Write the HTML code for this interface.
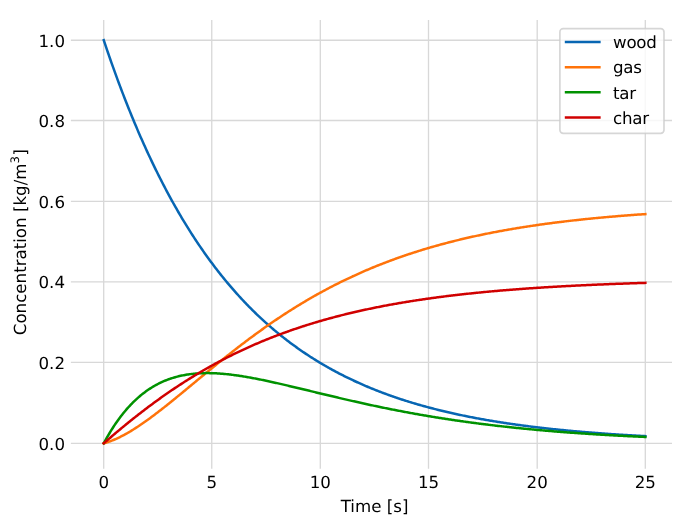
<!DOCTYPE html>
<html><head><meta charset="utf-8"><title>Concentration vs Time</title>
<style>html,body{margin:0;padding:0;background:#fff;}body{width:689px;height:522px;overflow:hidden;}svg{display:block;will-change:transform;text-rendering:geometricPrecision;}</style>
</head><body>
<svg width="689" height="522" viewBox="0 0 689 522">
<rect width="689" height="522" fill="#fff"/>
<path d="M103.70,20.04 V468.80 M211.75,20.04 V468.80 M320.30,20.04 V468.80 M428.50,20.04 V468.80 M537.20,20.04 V468.80 M645.30,20.04 V468.80 M70.90,443.30 H672.00 M70.90,362.45 H672.00 M70.90,281.95 H672.00 M70.90,201.40 H672.00 M70.90,120.50 H672.00 M70.90,40.25 H672.00" stroke="#d8d8d8" stroke-width="1.33" fill="none"/>
<g font-family="DejaVu Sans, Liberation Sans, sans-serif" font-size="16.67" fill="#000">
<text x="103.70" y="488.00" text-anchor="middle">0</text>
<text x="211.75" y="488.00" text-anchor="middle">5</text>
<text x="320.30" y="488.00" text-anchor="middle">10</text>
<text x="428.50" y="488.00" text-anchor="middle">15</text>
<text x="537.20" y="488.00" text-anchor="middle">20</text>
<text x="645.30" y="488.00" text-anchor="middle">25</text>
<text x="65.00" y="449.55" text-anchor="end">0.0</text>
<text x="65.00" y="368.70" text-anchor="end">0.2</text>
<text x="65.00" y="288.20" text-anchor="end">0.4</text>
<text x="65.00" y="207.65" text-anchor="end">0.6</text>
<text x="65.00" y="126.75" text-anchor="end">0.8</text>
<text x="65.00" y="46.50" text-anchor="end">1.0</text>
<text x="374.55" y="511.50" text-anchor="middle">Time [s]</text>
<text transform="translate(25.70,242.15) rotate(-90)" text-anchor="middle">Concentration [kg/m<tspan dy="-6.5" font-size="11.7">3</tspan><tspan dx="0.5" dy="6.5">]</tspan></text>
</g>
<g fill="none" stroke-width="2.5" stroke-linejoin="round" stroke-linecap="square">
<path d="M103.75,40.20 L104.83,43.44 L105.92,46.65 L107.00,49.84 L108.08,53.00 L109.17,56.13 L110.25,59.24 L111.33,62.33 L112.42,65.39 L113.50,68.42 L114.58,71.44 L115.67,74.42 L116.75,77.39 L117.83,80.33 L118.91,83.24 L120.00,86.13 L121.08,89.00 L122.16,91.85 L123.25,94.67 L124.33,97.47 L125.41,100.25 L126.50,103.01 L127.58,105.74 L128.66,108.45 L129.75,111.14 L130.83,113.81 L131.91,116.46 L133.00,119.08 L134.08,121.69 L135.16,124.27 L136.25,126.84 L137.33,129.38 L138.41,131.90 L139.50,134.40 L140.58,136.88 L141.66,139.34 L142.75,141.79 L143.83,144.21 L144.91,146.61 L145.99,148.99 L147.08,151.36 L148.16,153.70 L149.24,156.03 L150.33,158.34 L151.41,160.63 L152.49,162.90 L153.58,165.15 L154.66,167.38 L155.74,169.60 L156.83,171.80 L157.91,173.98 L158.99,176.14 L160.08,178.29 L161.16,180.42 L162.24,182.53 L163.33,184.63 L164.41,186.70 L165.49,188.77 L166.58,190.81 L167.66,192.84 L168.74,194.85 L169.83,196.85 L170.91,198.83 L171.99,200.79 L173.07,202.74 L174.16,204.67 L175.24,206.59 L176.32,208.49 L177.41,210.38 L178.49,212.25 L179.57,214.10 L180.66,215.94 L181.74,217.77 L182.82,219.58 L183.91,221.38 L184.99,223.16 L186.07,224.93 L187.16,226.69 L188.24,228.43 L189.32,230.15 L190.41,231.86 L191.49,233.56 L192.57,235.25 L193.66,236.92 L194.74,238.58 L195.82,240.22 L196.91,241.85 L197.99,243.47 L199.07,245.08 L200.15,246.67 L201.24,248.25 L202.32,249.82 L203.40,251.37 L204.49,252.91 L205.57,254.44 L206.65,255.96 L207.74,257.46 L208.82,258.96 L209.90,260.44 L210.99,261.91 L212.07,263.36 L213.15,264.81 L214.24,266.24 L215.32,267.66 L216.40,269.08 L217.49,270.48 L218.57,271.86 L219.65,273.24 L220.74,274.61 L221.82,275.96 L222.90,277.31 L223.99,278.64 L225.07,279.96 L226.15,281.27 L227.23,282.58 L228.32,283.87 L229.40,285.15 L230.48,286.42 L231.57,287.68 L232.65,288.93 L233.73,290.17 L234.82,291.40 L235.90,292.62 L236.98,293.83 L238.07,295.03 L239.15,296.22 L240.23,297.40 L241.32,298.58 L242.40,299.74 L243.48,300.89 L244.57,302.04 L245.65,303.17 L246.73,304.30 L247.82,305.41 L248.90,306.52 L249.98,307.62 L251.07,308.71 L252.15,309.79 L253.23,310.86 L254.31,311.93 L255.40,312.98 L256.48,314.03 L257.56,315.07 L258.65,316.10 L259.73,317.12 L260.81,318.13 L261.90,319.14 L262.98,320.14 L264.06,321.13 L265.15,322.11 L266.23,323.08 L267.31,324.05 L268.40,325.00 L269.48,325.95 L270.56,326.90 L271.65,327.83 L272.73,328.76 L273.81,329.68 L274.90,330.59 L275.98,331.50 L277.06,332.40 L278.15,333.29 L279.23,334.17 L280.31,335.05 L281.39,335.92 L282.48,336.78 L283.56,337.64 L284.64,338.48 L285.73,339.33 L286.81,340.16 L287.89,340.99 L288.98,341.81 L290.06,342.63 L291.14,343.44 L292.23,344.24 L293.31,345.03 L294.39,345.82 L295.48,346.61 L296.56,347.38 L297.64,348.15 L298.73,348.92 L299.81,349.68 L300.89,350.43 L301.98,351.17 L303.06,351.92 L304.14,352.65 L305.23,353.38 L306.31,354.10 L307.39,354.82 L308.47,355.53 L309.56,356.23 L310.64,356.93 L311.72,357.63 L312.81,358.31 L313.89,359.00 L314.97,359.67 L316.06,360.35 L317.14,361.01 L318.22,361.67 L319.31,362.33 L320.39,362.98 L321.47,363.62 L322.56,364.26 L323.64,364.90 L324.72,365.53 L325.81,366.15 L326.89,366.77 L327.97,367.39 L329.06,368.00 L330.14,368.60 L331.22,369.20 L332.31,369.80 L333.39,370.39 L334.47,370.97 L335.55,371.56 L336.64,372.13 L337.72,372.70 L338.80,373.27 L339.89,373.83 L340.97,374.39 L342.05,374.95 L343.14,375.49 L344.22,376.04 L345.30,376.58 L346.39,377.12 L347.47,377.65 L348.55,378.17 L349.64,378.70 L350.72,379.22 L351.80,379.73 L352.89,380.24 L353.97,380.75 L355.05,381.25 L356.14,381.75 L357.22,382.24 L358.30,382.73 L359.39,383.22 L360.47,383.70 L361.55,384.18 L362.63,384.66 L363.72,385.13 L364.80,385.60 L365.88,386.06 L366.97,386.52 L368.05,386.98 L369.13,387.43 L370.22,387.88 L371.30,388.32 L372.38,388.76 L373.47,389.20 L374.55,389.64 L375.63,390.07 L376.72,390.49 L377.80,390.92 L378.88,391.34 L379.97,391.76 L381.05,392.17 L382.13,392.58 L383.22,392.99 L384.30,393.39 L385.38,393.79 L386.47,394.19 L387.55,394.59 L388.63,394.98 L389.71,395.37 L390.80,395.75 L391.88,396.13 L392.96,396.51 L394.05,396.89 L395.13,397.26 L396.21,397.63 L397.30,398.00 L398.38,398.36 L399.46,398.72 L400.55,399.08 L401.63,399.44 L402.71,399.79 L403.80,400.14 L404.88,400.48 L405.96,400.83 L407.05,401.17 L408.13,401.51 L409.21,401.84 L410.30,402.18 L411.38,402.51 L412.46,402.83 L413.55,403.16 L414.63,403.48 L415.71,403.80 L416.79,404.12 L417.88,404.43 L418.96,404.75 L420.04,405.06 L421.13,405.36 L422.21,405.67 L423.29,405.97 L424.38,406.27 L425.46,406.57 L426.54,406.86 L427.63,407.16 L428.71,407.45 L429.79,407.73 L430.88,408.02 L431.96,408.30 L433.04,408.58 L434.13,408.86 L435.21,409.14 L436.29,409.41 L437.38,409.69 L438.46,409.96 L439.54,410.22 L440.63,410.49 L441.71,410.75 L442.79,411.02 L443.87,411.27 L444.96,411.53 L446.04,411.79 L447.12,412.04 L448.21,412.29 L449.29,412.54 L450.37,412.79 L451.46,413.03 L452.54,413.28 L453.62,413.52 L454.71,413.76 L455.79,413.99 L456.87,414.23 L457.96,414.46 L459.04,414.69 L460.12,414.92 L461.21,415.15 L462.29,415.38 L463.37,415.60 L464.46,415.82 L465.54,416.05 L466.62,416.26 L467.71,416.48 L468.79,416.70 L469.87,416.91 L470.95,417.12 L472.04,417.33 L473.12,417.54 L474.20,417.75 L475.29,417.95 L476.37,418.16 L477.45,418.36 L478.54,418.56 L479.62,418.76 L480.70,418.96 L481.79,419.15 L482.87,419.35 L483.95,419.54 L485.04,419.73 L486.12,419.92 L487.20,420.11 L488.29,420.29 L489.37,420.48 L490.45,420.66 L491.54,420.84 L492.62,421.02 L493.70,421.20 L494.79,421.38 L495.87,421.56 L496.95,421.73 L498.03,421.90 L499.12,422.08 L500.20,422.25 L501.28,422.41 L502.37,422.58 L503.45,422.75 L504.53,422.91 L505.62,423.08 L506.70,423.24 L507.78,423.40 L508.87,423.56 L509.95,423.72 L511.03,423.88 L512.12,424.03 L513.20,424.19 L514.28,424.34 L515.37,424.49 L516.45,424.64 L517.53,424.79 L518.62,424.94 L519.70,425.09 L520.78,425.24 L521.87,425.38 L522.95,425.53 L524.03,425.67 L525.11,425.81 L526.20,425.95 L527.28,426.09 L528.36,426.23 L529.45,426.37 L530.53,426.50 L531.61,426.64 L532.70,426.77 L533.78,426.90 L534.86,427.04 L535.95,427.17 L537.03,427.30 L538.11,427.42 L539.20,427.55 L540.28,427.68 L541.36,427.80 L542.45,427.93 L543.53,428.05 L544.61,428.17 L545.70,428.30 L546.78,428.42 L547.86,428.54 L548.95,428.65 L550.03,428.77 L551.11,428.89 L552.19,429.00 L553.28,429.12 L554.36,429.23 L555.44,429.35 L556.53,429.46 L557.61,429.57 L558.69,429.68 L559.78,429.79 L560.86,429.90 L561.94,430.01 L563.03,430.11 L564.11,430.22 L565.19,430.32 L566.28,430.43 L567.36,430.53 L568.44,430.63 L569.53,430.74 L570.61,430.84 L571.69,430.94 L572.78,431.04 L573.86,431.13 L574.94,431.23 L576.03,431.33 L577.11,431.42 L578.19,431.52 L579.27,431.61 L580.36,431.71 L581.44,431.80 L582.52,431.89 L583.61,431.99 L584.69,432.08 L585.77,432.17 L586.86,432.26 L587.94,432.35 L589.02,432.43 L590.11,432.52 L591.19,432.61 L592.27,432.69 L593.36,432.78 L594.44,432.86 L595.52,432.95 L596.61,433.03 L597.69,433.11 L598.77,433.19 L599.86,433.28 L600.94,433.36 L602.02,433.44 L603.11,433.51 L604.19,433.59 L605.27,433.67 L606.35,433.75 L607.44,433.83 L608.52,433.90 L609.60,433.98 L610.69,434.05 L611.77,434.13 L612.85,434.20 L613.94,434.27 L615.02,434.35 L616.10,434.42 L617.19,434.49 L618.27,434.56 L619.35,434.63 L620.44,434.70 L621.52,434.77 L622.60,434.84 L623.69,434.91 L624.77,434.97 L625.85,435.04 L626.94,435.11 L628.02,435.17 L629.10,435.24 L630.19,435.30 L631.27,435.37 L632.35,435.43 L633.43,435.49 L634.52,435.56 L635.60,435.62 L636.68,435.68 L637.77,435.74 L638.85,435.80 L639.93,435.86 L641.02,435.92 L642.10,435.98 L643.18,436.04 L644.27,436.10 L645.35,436.16" stroke="#0766b3"/>
<path d="M103.75,443.30 L104.83,443.00 L105.92,442.68 L107.00,442.35 L108.08,441.99 L109.17,441.62 L110.25,441.23 L111.33,440.83 L112.42,440.41 L113.50,439.97 L114.58,439.51 L115.67,439.04 L116.75,438.56 L117.83,438.06 L118.91,437.55 L120.00,437.02 L121.08,436.48 L122.16,435.93 L123.25,435.36 L124.33,434.78 L125.41,434.19 L126.50,433.59 L127.58,432.97 L128.66,432.35 L129.75,431.71 L130.83,431.06 L131.91,430.40 L133.00,429.74 L134.08,429.06 L135.16,428.37 L136.25,427.67 L137.33,426.97 L138.41,426.26 L139.50,425.53 L140.58,424.80 L141.66,424.06 L142.75,423.32 L143.83,422.56 L144.91,421.80 L145.99,421.04 L147.08,420.26 L148.16,419.48 L149.24,418.69 L150.33,417.90 L151.41,417.10 L152.49,416.30 L153.58,415.49 L154.66,414.67 L155.74,413.85 L156.83,413.02 L157.91,412.19 L158.99,411.36 L160.08,410.52 L161.16,409.68 L162.24,408.83 L163.33,407.98 L164.41,407.13 L165.49,406.27 L166.58,405.41 L167.66,404.54 L168.74,403.68 L169.83,402.81 L170.91,401.94 L171.99,401.06 L173.07,400.18 L174.16,399.30 L175.24,398.42 L176.32,397.54 L177.41,396.65 L178.49,395.77 L179.57,394.88 L180.66,393.99 L181.74,393.10 L182.82,392.21 L183.91,391.31 L184.99,390.42 L186.07,389.52 L187.16,388.63 L188.24,387.73 L189.32,386.83 L190.41,385.94 L191.49,385.04 L192.57,384.14 L193.66,383.24 L194.74,382.35 L195.82,381.45 L196.91,380.55 L197.99,379.65 L199.07,378.76 L200.15,377.86 L201.24,376.97 L202.32,376.07 L203.40,375.18 L204.49,374.28 L205.57,373.39 L206.65,372.50 L207.74,371.61 L208.82,370.72 L209.90,369.83 L210.99,368.95 L212.07,368.06 L213.15,367.18 L214.24,366.29 L215.32,365.41 L216.40,364.53 L217.49,363.65 L218.57,362.78 L219.65,361.90 L220.74,361.03 L221.82,360.16 L222.90,359.29 L223.99,358.42 L225.07,357.56 L226.15,356.69 L227.23,355.83 L228.32,354.98 L229.40,354.12 L230.48,353.26 L231.57,352.41 L232.65,351.56 L233.73,350.72 L234.82,349.87 L235.90,349.03 L236.98,348.19 L238.07,347.35 L239.15,346.52 L240.23,345.68 L241.32,344.85 L242.40,344.03 L243.48,343.20 L244.57,342.38 L245.65,341.56 L246.73,340.75 L247.82,339.93 L248.90,339.12 L249.98,338.32 L251.07,337.51 L252.15,336.71 L253.23,335.91 L254.31,335.12 L255.40,334.32 L256.48,333.53 L257.56,332.75 L258.65,331.96 L259.73,331.18 L260.81,330.40 L261.90,329.63 L262.98,328.86 L264.06,328.09 L265.15,327.33 L266.23,326.56 L267.31,325.80 L268.40,325.05 L269.48,324.30 L270.56,323.55 L271.65,322.80 L272.73,322.06 L273.81,321.32 L274.90,320.58 L275.98,319.85 L277.06,319.12 L278.15,318.39 L279.23,317.67 L280.31,316.95 L281.39,316.24 L282.48,315.52 L283.56,314.81 L284.64,314.11 L285.73,313.40 L286.81,312.70 L287.89,312.01 L288.98,311.31 L290.06,310.62 L291.14,309.94 L292.23,309.25 L293.31,308.57 L294.39,307.90 L295.48,307.22 L296.56,306.55 L297.64,305.89 L298.73,305.23 L299.81,304.57 L300.89,303.91 L301.98,303.26 L303.06,302.61 L304.14,301.96 L305.23,301.32 L306.31,300.68 L307.39,300.04 L308.47,299.41 L309.56,298.78 L310.64,298.15 L311.72,297.53 L312.81,296.91 L313.89,296.29 L314.97,295.68 L316.06,295.07 L317.14,294.46 L318.22,293.86 L319.31,293.26 L320.39,292.66 L321.47,292.07 L322.56,291.48 L323.64,290.89 L324.72,290.31 L325.81,289.73 L326.89,289.15 L327.97,288.58 L329.06,288.01 L330.14,287.44 L331.22,286.88 L332.31,286.32 L333.39,285.76 L334.47,285.21 L335.55,284.65 L336.64,284.11 L337.72,283.56 L338.80,283.02 L339.89,282.48 L340.97,281.94 L342.05,281.41 L343.14,280.88 L344.22,280.36 L345.30,279.83 L346.39,279.31 L347.47,278.80 L348.55,278.28 L349.64,277.77 L350.72,277.26 L351.80,276.76 L352.89,276.26 L353.97,275.76 L355.05,275.26 L356.14,274.77 L357.22,274.28 L358.30,273.79 L359.39,273.31 L360.47,272.83 L361.55,272.35 L362.63,271.88 L363.72,271.40 L364.80,270.93 L365.88,270.47 L366.97,270.01 L368.05,269.54 L369.13,269.09 L370.22,268.63 L371.30,268.18 L372.38,267.73 L373.47,267.28 L374.55,266.84 L375.63,266.40 L376.72,265.96 L377.80,265.53 L378.88,265.09 L379.97,264.66 L381.05,264.24 L382.13,263.81 L383.22,263.39 L384.30,262.97 L385.38,262.56 L386.47,262.14 L387.55,261.73 L388.63,261.32 L389.71,260.92 L390.80,260.51 L391.88,260.11 L392.96,259.72 L394.05,259.32 L395.13,258.93 L396.21,258.54 L397.30,258.15 L398.38,257.76 L399.46,257.38 L400.55,257.00 L401.63,256.62 L402.71,256.25 L403.80,255.88 L404.88,255.51 L405.96,255.14 L407.05,254.77 L408.13,254.41 L409.21,254.05 L410.30,253.69 L411.38,253.34 L412.46,252.98 L413.55,252.63 L414.63,252.28 L415.71,251.94 L416.79,251.59 L417.88,251.25 L418.96,250.91 L420.04,250.57 L421.13,250.24 L422.21,249.90 L423.29,249.57 L424.38,249.25 L425.46,248.92 L426.54,248.60 L427.63,248.27 L428.71,247.96 L429.79,247.64 L430.88,247.32 L431.96,247.01 L433.04,246.70 L434.13,246.39 L435.21,246.08 L436.29,245.78 L437.38,245.48 L438.46,245.18 L439.54,244.88 L440.63,244.58 L441.71,244.29 L442.79,243.99 L443.87,243.70 L444.96,243.42 L446.04,243.13 L447.12,242.84 L448.21,242.56 L449.29,242.28 L450.37,242.00 L451.46,241.73 L452.54,241.45 L453.62,241.18 L454.71,240.91 L455.79,240.64 L456.87,240.37 L457.96,240.11 L459.04,239.84 L460.12,239.58 L461.21,239.32 L462.29,239.07 L463.37,238.81 L464.46,238.56 L465.54,238.30 L466.62,238.05 L467.71,237.80 L468.79,237.56 L469.87,237.31 L470.95,237.07 L472.04,236.83 L473.12,236.58 L474.20,236.35 L475.29,236.11 L476.37,235.87 L477.45,235.64 L478.54,235.41 L479.62,235.18 L480.70,234.95 L481.79,234.72 L482.87,234.50 L483.95,234.27 L485.04,234.05 L486.12,233.83 L487.20,233.61 L488.29,233.39 L489.37,233.18 L490.45,232.96 L491.54,232.75 L492.62,232.54 L493.70,232.33 L494.79,232.12 L495.87,231.92 L496.95,231.71 L498.03,231.51 L499.12,231.30 L500.20,231.10 L501.28,230.90 L502.37,230.71 L503.45,230.51 L504.53,230.31 L505.62,230.12 L506.70,229.93 L507.78,229.74 L508.87,229.55 L509.95,229.36 L511.03,229.17 L512.12,228.99 L513.20,228.80 L514.28,228.62 L515.37,228.44 L516.45,228.26 L517.53,228.08 L518.62,227.90 L519.70,227.73 L520.78,227.55 L521.87,227.38 L522.95,227.20 L524.03,227.03 L525.11,226.86 L526.20,226.69 L527.28,226.53 L528.36,226.36 L529.45,226.20 L530.53,226.03 L531.61,225.87 L532.70,225.71 L533.78,225.55 L534.86,225.39 L535.95,225.23 L537.03,225.07 L538.11,224.92 L539.20,224.76 L540.28,224.61 L541.36,224.46 L542.45,224.31 L543.53,224.16 L544.61,224.01 L545.70,223.86 L546.78,223.72 L547.86,223.57 L548.95,223.43 L550.03,223.28 L551.11,223.14 L552.19,223.00 L553.28,222.86 L554.36,222.72 L555.44,222.58 L556.53,222.44 L557.61,222.31 L558.69,222.17 L559.78,222.04 L560.86,221.91 L561.94,221.77 L563.03,221.64 L564.11,221.51 L565.19,221.38 L566.28,221.25 L567.36,221.13 L568.44,221.00 L569.53,220.88 L570.61,220.75 L571.69,220.63 L572.78,220.51 L573.86,220.38 L574.94,220.26 L576.03,220.14 L577.11,220.02 L578.19,219.91 L579.27,219.79 L580.36,219.67 L581.44,219.56 L582.52,219.44 L583.61,219.33 L584.69,219.22 L585.77,219.10 L586.86,218.99 L587.94,218.88 L589.02,218.77 L590.11,218.66 L591.19,218.56 L592.27,218.45 L593.36,218.34 L594.44,218.24 L595.52,218.13 L596.61,218.03 L597.69,217.93 L598.77,217.82 L599.86,217.72 L600.94,217.62 L602.02,217.52 L603.11,217.42 L604.19,217.32 L605.27,217.23 L606.35,217.13 L607.44,217.03 L608.52,216.94 L609.60,216.84 L610.69,216.75 L611.77,216.66 L612.85,216.56 L613.94,216.47 L615.02,216.38 L616.10,216.29 L617.19,216.20 L618.27,216.11 L619.35,216.02 L620.44,215.93 L621.52,215.85 L622.60,215.76 L623.69,215.67 L624.77,215.59 L625.85,215.50 L626.94,215.42 L628.02,215.34 L629.10,215.25 L630.19,215.17 L631.27,215.09 L632.35,215.01 L633.43,214.93 L634.52,214.85 L635.60,214.77 L636.68,214.69 L637.77,214.62 L638.85,214.54 L639.93,214.46 L641.02,214.39 L642.10,214.31 L643.18,214.24 L644.27,214.16 L645.35,214.09" stroke="#ff730a"/>
<path d="M103.75,443.30 L104.83,441.30 L105.92,439.35 L107.00,437.44 L108.08,435.57 L109.17,433.74 L110.25,431.94 L111.33,430.19 L112.42,428.48 L113.50,426.80 L114.58,425.16 L115.67,423.56 L116.75,422.00 L117.83,420.47 L118.91,418.97 L120.00,417.51 L121.08,416.08 L122.16,414.69 L123.25,413.32 L124.33,411.99 L125.41,410.69 L126.50,409.43 L127.58,408.19 L128.66,406.98 L129.75,405.80 L130.83,404.65 L131.91,403.53 L133.00,402.44 L134.08,401.37 L135.16,400.33 L136.25,399.32 L137.33,398.33 L138.41,397.37 L139.50,396.44 L140.58,395.53 L141.66,394.64 L142.75,393.78 L143.83,392.94 L144.91,392.13 L145.99,391.33 L147.08,390.56 L148.16,389.81 L149.24,389.08 L150.33,388.38 L151.41,387.69 L152.49,387.03 L153.58,386.38 L154.66,385.76 L155.74,385.15 L156.83,384.56 L157.91,384.00 L158.99,383.45 L160.08,382.91 L161.16,382.40 L162.24,381.90 L163.33,381.42 L164.41,380.96 L165.49,380.51 L166.58,380.08 L167.66,379.67 L168.74,379.27 L169.83,378.88 L170.91,378.51 L171.99,378.16 L173.07,377.82 L174.16,377.49 L175.24,377.18 L176.32,376.88 L177.41,376.60 L178.49,376.32 L179.57,376.06 L180.66,375.82 L181.74,375.58 L182.82,375.36 L183.91,375.15 L184.99,374.95 L186.07,374.77 L187.16,374.59 L188.24,374.42 L189.32,374.27 L190.41,374.13 L191.49,373.99 L192.57,373.87 L193.66,373.76 L194.74,373.66 L195.82,373.56 L196.91,373.48 L197.99,373.40 L199.07,373.34 L200.15,373.28 L201.24,373.23 L202.32,373.19 L203.40,373.16 L204.49,373.14 L205.57,373.12 L206.65,373.11 L207.74,373.11 L208.82,373.12 L209.90,373.13 L210.99,373.15 L212.07,373.18 L213.15,373.22 L214.24,373.26 L215.32,373.31 L216.40,373.36 L217.49,373.43 L218.57,373.49 L219.65,373.57 L220.74,373.65 L221.82,373.73 L222.90,373.82 L223.99,373.92 L225.07,374.02 L226.15,374.13 L227.23,374.24 L228.32,374.35 L229.40,374.48 L230.48,374.60 L231.57,374.73 L232.65,374.87 L233.73,375.01 L234.82,375.15 L235.90,375.30 L236.98,375.45 L238.07,375.61 L239.15,375.77 L240.23,375.93 L241.32,376.10 L242.40,376.27 L243.48,376.45 L244.57,376.62 L245.65,376.81 L246.73,376.99 L247.82,377.18 L248.90,377.37 L249.98,377.56 L251.07,377.76 L252.15,377.96 L253.23,378.16 L254.31,378.37 L255.40,378.57 L256.48,378.78 L257.56,379.00 L258.65,379.21 L259.73,379.43 L260.81,379.65 L261.90,379.87 L262.98,380.09 L264.06,380.32 L265.15,380.54 L266.23,380.77 L267.31,381.00 L268.40,381.24 L269.48,381.47 L270.56,381.71 L271.65,381.94 L272.73,382.18 L273.81,382.42 L274.90,382.67 L275.98,382.91 L277.06,383.15 L278.15,383.40 L279.23,383.64 L280.31,383.89 L281.39,384.14 L282.48,384.39 L283.56,384.64 L284.64,384.89 L285.73,385.15 L286.81,385.40 L287.89,385.65 L288.98,385.91 L290.06,386.17 L291.14,386.42 L292.23,386.68 L293.31,386.94 L294.39,387.19 L295.48,387.45 L296.56,387.71 L297.64,387.97 L298.73,388.23 L299.81,388.49 L300.89,388.75 L301.98,389.01 L303.06,389.27 L304.14,389.54 L305.23,389.80 L306.31,390.06 L307.39,390.32 L308.47,390.58 L309.56,390.84 L310.64,391.11 L311.72,391.37 L312.81,391.63 L313.89,391.89 L314.97,392.15 L316.06,392.42 L317.14,392.68 L318.22,392.94 L319.31,393.20 L320.39,393.46 L321.47,393.72 L322.56,393.98 L323.64,394.24 L324.72,394.50 L325.81,394.76 L326.89,395.02 L327.97,395.28 L329.06,395.54 L330.14,395.80 L331.22,396.06 L332.31,396.31 L333.39,396.57 L334.47,396.83 L335.55,397.08 L336.64,397.34 L337.72,397.59 L338.80,397.85 L339.89,398.10 L340.97,398.35 L342.05,398.61 L343.14,398.86 L344.22,399.11 L345.30,399.36 L346.39,399.61 L347.47,399.86 L348.55,400.11 L349.64,400.36 L350.72,400.61 L351.80,400.85 L352.89,401.10 L353.97,401.34 L355.05,401.59 L356.14,401.83 L357.22,402.08 L358.30,402.32 L359.39,402.56 L360.47,402.80 L361.55,403.04 L362.63,403.28 L363.72,403.52 L364.80,403.76 L365.88,403.99 L366.97,404.23 L368.05,404.46 L369.13,404.70 L370.22,404.93 L371.30,405.16 L372.38,405.40 L373.47,405.63 L374.55,405.86 L375.63,406.08 L376.72,406.31 L377.80,406.54 L378.88,406.77 L379.97,406.99 L381.05,407.22 L382.13,407.44 L383.22,407.66 L384.30,407.88 L385.38,408.11 L386.47,408.33 L387.55,408.54 L388.63,408.76 L389.71,408.98 L390.80,409.20 L391.88,409.41 L392.96,409.62 L394.05,409.84 L395.13,410.05 L396.21,410.26 L397.30,410.47 L398.38,410.68 L399.46,410.89 L400.55,411.10 L401.63,411.30 L402.71,411.51 L403.80,411.71 L404.88,411.92 L405.96,412.12 L407.05,412.32 L408.13,412.52 L409.21,412.72 L410.30,412.92 L411.38,413.12 L412.46,413.32 L413.55,413.51 L414.63,413.71 L415.71,413.90 L416.79,414.09 L417.88,414.29 L418.96,414.48 L420.04,414.67 L421.13,414.86 L422.21,415.04 L423.29,415.23 L424.38,415.42 L425.46,415.60 L426.54,415.79 L427.63,415.97 L428.71,416.15 L429.79,416.33 L430.88,416.51 L431.96,416.69 L433.04,416.87 L434.13,417.05 L435.21,417.22 L436.29,417.40 L437.38,417.57 L438.46,417.75 L439.54,417.92 L440.63,418.09 L441.71,418.26 L442.79,418.43 L443.87,418.60 L444.96,418.77 L446.04,418.93 L447.12,419.10 L448.21,419.27 L449.29,419.43 L450.37,419.59 L451.46,419.75 L452.54,419.92 L453.62,420.08 L454.71,420.24 L455.79,420.39 L456.87,420.55 L457.96,420.71 L459.04,420.86 L460.12,421.02 L461.21,421.17 L462.29,421.33 L463.37,421.48 L464.46,421.63 L465.54,421.78 L466.62,421.93 L467.71,422.08 L468.79,422.22 L469.87,422.37 L470.95,422.52 L472.04,422.66 L473.12,422.81 L474.20,422.95 L475.29,423.09 L476.37,423.23 L477.45,423.37 L478.54,423.51 L479.62,423.65 L480.70,423.79 L481.79,423.93 L482.87,424.06 L483.95,424.20 L485.04,424.34 L486.12,424.47 L487.20,424.60 L488.29,424.73 L489.37,424.87 L490.45,425.00 L491.54,425.13 L492.62,425.25 L493.70,425.38 L494.79,425.51 L495.87,425.64 L496.95,425.76 L498.03,425.89 L499.12,426.01 L500.20,426.13 L501.28,426.26 L502.37,426.38 L503.45,426.50 L504.53,426.62 L505.62,426.74 L506.70,426.86 L507.78,426.98 L508.87,427.09 L509.95,427.21 L511.03,427.33 L512.12,427.44 L513.20,427.55 L514.28,427.67 L515.37,427.78 L516.45,427.89 L517.53,428.00 L518.62,428.11 L519.70,428.22 L520.78,428.33 L521.87,428.44 L522.95,428.55 L524.03,428.66 L525.11,428.76 L526.20,428.87 L527.28,428.97 L528.36,429.08 L529.45,429.18 L530.53,429.28 L531.61,429.38 L532.70,429.49 L533.78,429.59 L534.86,429.69 L535.95,429.79 L537.03,429.88 L538.11,429.98 L539.20,430.08 L540.28,430.18 L541.36,430.27 L542.45,430.37 L543.53,430.46 L544.61,430.56 L545.70,430.65 L546.78,430.74 L547.86,430.84 L548.95,430.93 L550.03,431.02 L551.11,431.11 L552.19,431.20 L553.28,431.29 L554.36,431.38 L555.44,431.46 L556.53,431.55 L557.61,431.64 L558.69,431.72 L559.78,431.81 L560.86,431.89 L561.94,431.98 L563.03,432.06 L564.11,432.15 L565.19,432.23 L566.28,432.31 L567.36,432.39 L568.44,432.47 L569.53,432.55 L570.61,432.63 L571.69,432.71 L572.78,432.79 L573.86,432.87 L574.94,432.95 L576.03,433.02 L577.11,433.10 L578.19,433.18 L579.27,433.25 L580.36,433.33 L581.44,433.40 L582.52,433.47 L583.61,433.55 L584.69,433.62 L585.77,433.69 L586.86,433.77 L587.94,433.84 L589.02,433.91 L590.11,433.98 L591.19,434.05 L592.27,434.12 L593.36,434.19 L594.44,434.25 L595.52,434.32 L596.61,434.39 L597.69,434.46 L598.77,434.52 L599.86,434.59 L600.94,434.65 L602.02,434.72 L603.11,434.78 L604.19,434.85 L605.27,434.91 L606.35,434.97 L607.44,435.04 L608.52,435.10 L609.60,435.16 L610.69,435.22 L611.77,435.28 L612.85,435.34 L613.94,435.40 L615.02,435.46 L616.10,435.52 L617.19,435.58 L618.27,435.64 L619.35,435.70 L620.44,435.76 L621.52,435.81 L622.60,435.87 L623.69,435.93 L624.77,435.98 L625.85,436.04 L626.94,436.09 L628.02,436.15 L629.10,436.20 L630.19,436.25 L631.27,436.31 L632.35,436.36 L633.43,436.41 L634.52,436.47 L635.60,436.52 L636.68,436.57 L637.77,436.62 L638.85,436.67 L639.93,436.72 L641.02,436.77 L642.10,436.82 L643.18,436.87 L644.27,436.92 L645.35,436.97" stroke="#009200"/>
<path d="M103.75,443.30 L104.83,442.36 L105.92,441.42 L107.00,440.48 L108.08,439.54 L109.17,438.61 L110.25,437.68 L111.33,436.75 L112.42,435.83 L113.50,434.90 L114.58,433.99 L115.67,433.07 L116.75,432.16 L117.83,431.25 L118.91,430.34 L120.00,429.44 L121.08,428.54 L122.16,427.64 L123.25,426.74 L124.33,425.85 L125.41,424.96 L126.50,424.08 L127.58,423.20 L128.66,422.32 L129.75,421.45 L130.83,420.57 L131.91,419.71 L133.00,418.84 L134.08,417.98 L135.16,417.12 L136.25,416.27 L137.33,415.42 L138.41,414.57 L139.50,413.73 L140.58,412.89 L141.66,412.05 L142.75,411.22 L143.83,410.39 L144.91,409.56 L145.99,408.74 L147.08,407.92 L148.16,407.10 L149.24,406.29 L150.33,405.48 L151.41,404.68 L152.49,403.88 L153.58,403.08 L154.66,402.29 L155.74,401.50 L156.83,400.71 L157.91,399.93 L158.99,399.15 L160.08,398.37 L161.16,397.60 L162.24,396.83 L163.33,396.07 L164.41,395.31 L165.49,394.55 L166.58,393.80 L167.66,393.05 L168.74,392.31 L169.83,391.56 L170.91,390.83 L171.99,390.09 L173.07,389.36 L174.16,388.63 L175.24,387.91 L176.32,387.19 L177.41,386.47 L178.49,385.76 L179.57,385.05 L180.66,384.35 L181.74,383.65 L182.82,382.95 L183.91,382.26 L184.99,381.57 L186.07,380.88 L187.16,380.20 L188.24,379.52 L189.32,378.84 L190.41,378.17 L191.49,377.50 L192.57,376.84 L193.66,376.18 L194.74,375.52 L195.82,374.87 L196.91,374.22 L197.99,373.57 L199.07,372.93 L200.15,372.29 L201.24,371.65 L202.32,371.02 L203.40,370.39 L204.49,369.77 L205.57,369.15 L206.65,368.53 L207.74,367.92 L208.82,367.31 L209.90,366.70 L210.99,366.09 L212.07,365.49 L213.15,364.90 L214.24,364.30 L215.32,363.71 L216.40,363.13 L217.49,362.55 L218.57,361.97 L219.65,361.39 L220.74,360.82 L221.82,360.25 L222.90,359.68 L223.99,359.12 L225.07,358.56 L226.15,358.01 L227.23,357.45 L228.32,356.90 L229.40,356.36 L230.48,355.82 L231.57,355.28 L232.65,354.74 L233.73,354.21 L234.82,353.68 L235.90,353.15 L236.98,352.63 L238.07,352.11 L239.15,351.59 L240.23,351.08 L241.32,350.57 L242.40,350.06 L243.48,349.56 L244.57,349.06 L245.65,348.56 L246.73,348.07 L247.82,347.57 L248.90,347.09 L249.98,346.60 L251.07,346.12 L252.15,345.64 L253.23,345.16 L254.31,344.69 L255.40,344.22 L256.48,343.75 L257.56,343.29 L258.65,342.83 L259.73,342.37 L260.81,341.92 L261.90,341.46 L262.98,341.01 L264.06,340.57 L265.15,340.12 L266.23,339.68 L267.31,339.24 L268.40,338.81 L269.48,338.38 L270.56,337.95 L271.65,337.52 L272.73,337.10 L273.81,336.68 L274.90,336.26 L275.98,335.84 L277.06,335.43 L278.15,335.02 L279.23,334.61 L280.31,334.21 L281.39,333.81 L282.48,333.41 L283.56,333.01 L284.64,332.61 L285.73,332.22 L286.81,331.83 L287.89,331.45 L288.98,331.06 L290.06,330.68 L291.14,330.30 L292.23,329.93 L293.31,329.55 L294.39,329.18 L295.48,328.82 L296.56,328.45 L297.64,328.09 L298.73,327.72 L299.81,327.37 L300.89,327.01 L301.98,326.66 L303.06,326.30 L304.14,325.95 L305.23,325.61 L306.31,325.26 L307.39,324.92 L308.47,324.58 L309.56,324.24 L310.64,323.91 L311.72,323.58 L312.81,323.25 L313.89,322.92 L314.97,322.59 L316.06,322.27 L317.14,321.95 L318.22,321.63 L319.31,321.31 L320.39,320.99 L321.47,320.68 L322.56,320.37 L323.64,320.06 L324.72,319.76 L325.81,319.45 L326.89,319.15 L327.97,318.85 L329.06,318.55 L330.14,318.26 L331.22,317.96 L332.31,317.67 L333.39,317.38 L334.47,317.09 L335.55,316.81 L336.64,316.52 L337.72,316.24 L338.80,315.96 L339.89,315.69 L340.97,315.41 L342.05,315.14 L343.14,314.86 L344.22,314.59 L345.30,314.33 L346.39,314.06 L347.47,313.80 L348.55,313.53 L349.64,313.27 L350.72,313.01 L351.80,312.76 L352.89,312.50 L353.97,312.25 L355.05,312.00 L356.14,311.75 L357.22,311.50 L358.30,311.25 L359.39,311.01 L360.47,310.77 L361.55,310.53 L362.63,310.29 L363.72,310.05 L364.80,309.81 L365.88,309.58 L366.97,309.35 L368.05,309.12 L369.13,308.89 L370.22,308.66 L371.30,308.43 L372.38,308.21 L373.47,307.99 L374.55,307.77 L375.63,307.55 L376.72,307.33 L377.80,307.11 L378.88,306.90 L379.97,306.69 L381.05,306.47 L382.13,306.26 L383.22,306.06 L384.30,305.85 L385.38,305.64 L386.47,305.44 L387.55,305.24 L388.63,305.04 L389.71,304.84 L390.80,304.64 L391.88,304.44 L392.96,304.25 L394.05,304.05 L395.13,303.86 L396.21,303.67 L397.30,303.48 L398.38,303.29 L399.46,303.10 L400.55,302.92 L401.63,302.74 L402.71,302.55 L403.80,302.37 L404.88,302.19 L405.96,302.01 L407.05,301.83 L408.13,301.66 L409.21,301.48 L410.30,301.31 L411.38,301.14 L412.46,300.97 L413.55,300.80 L414.63,300.63 L415.71,300.46 L416.79,300.30 L417.88,300.13 L418.96,299.97 L420.04,299.80 L421.13,299.64 L422.21,299.48 L423.29,299.32 L424.38,299.17 L425.46,299.01 L426.54,298.86 L427.63,298.70 L428.71,298.55 L429.79,298.40 L430.88,298.25 L431.96,298.10 L433.04,297.95 L434.13,297.80 L435.21,297.65 L436.29,297.51 L437.38,297.36 L438.46,297.22 L439.54,297.08 L440.63,296.94 L441.71,296.80 L442.79,296.66 L443.87,296.52 L444.96,296.38 L446.04,296.25 L447.12,296.11 L448.21,295.98 L449.29,295.85 L450.37,295.72 L451.46,295.59 L452.54,295.46 L453.62,295.33 L454.71,295.20 L455.79,295.07 L456.87,294.95 L457.96,294.82 L459.04,294.70 L460.12,294.57 L461.21,294.45 L462.29,294.33 L463.37,294.21 L464.46,294.09 L465.54,293.97 L466.62,293.85 L467.71,293.74 L468.79,293.62 L469.87,293.51 L470.95,293.39 L472.04,293.28 L473.12,293.17 L474.20,293.06 L475.29,292.94 L476.37,292.83 L477.45,292.73 L478.54,292.62 L479.62,292.51 L480.70,292.40 L481.79,292.30 L482.87,292.19 L483.95,292.09 L485.04,291.98 L486.12,291.88 L487.20,291.78 L488.29,291.68 L489.37,291.58 L490.45,291.48 L491.54,291.38 L492.62,291.28 L493.70,291.19 L494.79,291.09 L495.87,290.99 L496.95,290.90 L498.03,290.80 L499.12,290.71 L500.20,290.62 L501.28,290.52 L502.37,290.43 L503.45,290.34 L504.53,290.25 L505.62,290.16 L506.70,290.07 L507.78,289.99 L508.87,289.90 L509.95,289.81 L511.03,289.73 L512.12,289.64 L513.20,289.55 L514.28,289.47 L515.37,289.39 L516.45,289.30 L517.53,289.22 L518.62,289.14 L519.70,289.06 L520.78,288.98 L521.87,288.90 L522.95,288.82 L524.03,288.74 L525.11,288.66 L526.20,288.59 L527.28,288.51 L528.36,288.43 L529.45,288.36 L530.53,288.28 L531.61,288.21 L532.70,288.13 L533.78,288.06 L534.86,287.99 L535.95,287.92 L537.03,287.85 L538.11,287.77 L539.20,287.70 L540.28,287.63 L541.36,287.56 L542.45,287.50 L543.53,287.43 L544.61,287.36 L545.70,287.29 L546.78,287.23 L547.86,287.16 L548.95,287.09 L550.03,287.03 L551.11,286.96 L552.19,286.90 L553.28,286.84 L554.36,286.77 L555.44,286.71 L556.53,286.65 L557.61,286.59 L558.69,286.52 L559.78,286.46 L560.86,286.40 L561.94,286.34 L563.03,286.28 L564.11,286.22 L565.19,286.17 L566.28,286.11 L567.36,286.05 L568.44,285.99 L569.53,285.94 L570.61,285.88 L571.69,285.82 L572.78,285.77 L573.86,285.71 L574.94,285.66 L576.03,285.60 L577.11,285.55 L578.19,285.50 L579.27,285.44 L580.36,285.39 L581.44,285.34 L582.52,285.29 L583.61,285.24 L584.69,285.19 L585.77,285.14 L586.86,285.09 L587.94,285.04 L589.02,284.99 L590.11,284.94 L591.19,284.89 L592.27,284.84 L593.36,284.79 L594.44,284.75 L595.52,284.70 L596.61,284.65 L597.69,284.61 L598.77,284.56 L599.86,284.51 L600.94,284.47 L602.02,284.42 L603.11,284.38 L604.19,284.33 L605.27,284.29 L606.35,284.25 L607.44,284.20 L608.52,284.16 L609.60,284.12 L610.69,284.08 L611.77,284.03 L612.85,283.99 L613.94,283.95 L615.02,283.91 L616.10,283.87 L617.19,283.83 L618.27,283.79 L619.35,283.75 L620.44,283.71 L621.52,283.67 L622.60,283.63 L623.69,283.60 L624.77,283.56 L625.85,283.52 L626.94,283.48 L628.02,283.44 L629.10,283.41 L630.19,283.37 L631.27,283.33 L632.35,283.30 L633.43,283.26 L634.52,283.23 L635.60,283.19 L636.68,283.16 L637.77,283.12 L638.85,283.09 L639.93,283.05 L641.02,283.02 L642.10,282.99 L643.18,282.95 L644.27,282.92 L645.35,282.89" stroke="#d00000"/>
</g>
<rect x="559.9" y="28.6" width="104.10" height="104.70" rx="3.33" fill="#fff" fill-opacity="0.8" stroke="#ccc" stroke-opacity="0.8" stroke-width="1.67"/>
<path d="M566.05,41.97 H599.4" stroke="#0766b3" stroke-width="2.5" stroke-linecap="square"/>
<text x="612.96" y="48.17" letter-spacing="-0.2" font-family="DejaVu Sans, Liberation Sans, sans-serif" font-size="16.67" fill="#000">wood</text>
<path d="M566.05,67.17 H599.4" stroke="#ff730a" stroke-width="2.5" stroke-linecap="square"/>
<text x="612.96" y="73.37" letter-spacing="-0.2" font-family="DejaVu Sans, Liberation Sans, sans-serif" font-size="16.67" fill="#000">gas</text>
<path d="M566.05,92.37 H599.4" stroke="#009200" stroke-width="2.5" stroke-linecap="square"/>
<text x="612.96" y="98.57" letter-spacing="-0.2" font-family="DejaVu Sans, Liberation Sans, sans-serif" font-size="16.67" fill="#000">tar</text>
<path d="M566.05,117.57 H599.4" stroke="#d00000" stroke-width="2.5" stroke-linecap="square"/>
<text x="612.96" y="123.77" letter-spacing="-0.2" font-family="DejaVu Sans, Liberation Sans, sans-serif" font-size="16.67" fill="#000">char</text>
</svg>
</body></html>
